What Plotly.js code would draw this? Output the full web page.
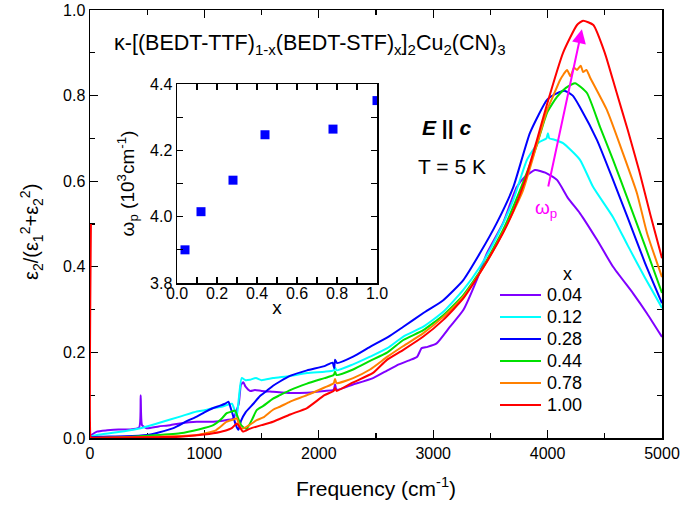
<!DOCTYPE html>
<html>
<head>
<meta charset="utf-8">
<script src="https://cdn.plot.ly/plotly-3.0.1.min.js"></script>
<style>html,body{margin:0;padding:0;background:#fff;}#chart{width:683px;height:513px;}</style>
</head>
<body>
<div id="chart"></div>
<script>
// ---- Data ----
const labels = ["0.04", "0.12", "0.28", "0.44", "0.78", "1.00"];
const colors = ["#8000FF", "#00FFFF", "#0000FF", "#00E000", "#FF8000", "#FF0000"];

const f004 = [0,60,150,250,350,430,443,455,495,600,700,787,933,1078,1195,1250,1300,1320,1340,1360,1400,1442,1500,1600,1750,1897,2050,2130,2142,2155,2300,2474,2600,2700,2797,2860,2899,2950,3030,3147,3263,3380,3470,3610,3729,3800,3890,3980,4082,4180,4283,4432,4572,4747,4869,5000];
const y004 = [0.005,0.015,0.018,0.02,0.02,0.025,0.10,0.03,0.023,0.027,0.03,0.034,0.038,0.038,0.042,0.045,0.08,0.125,0.13,0.12,0.11,0.112,0.11,0.108,0.105,0.106,0.11,0.113,0.125,0.113,0.125,0.14,0.158,0.172,0.182,0.19,0.21,0.213,0.221,0.26,0.299,0.369,0.432,0.502,0.586,0.61,0.626,0.62,0.603,0.56,0.525,0.463,0.4,0.338,0.291,0.236];

const f012 = [0,61,200,300,443,600,787,933,1000,1078,1150,1195,1240,1265,1283,1300,1326,1360,1398,1450,1500,1600,1750,1897,2050,2130,2142,2155,2300,2448,2600,2739,2914,3088,3263,3409,3555,3700,3820,3920,3990,4003,4015,4060,4135,4283,4397,4572,4700,4850,5000];
const y012 = [0.003,0.007,0.012,0.016,0.023,0.035,0.05,0.062,0.065,0.07,0.073,0.077,0.08,0.065,0.05,0.09,0.14,0.135,0.136,0.14,0.135,0.14,0.145,0.152,0.155,0.158,0.165,0.158,0.172,0.19,0.21,0.237,0.26,0.295,0.346,0.40,0.47,0.556,0.65,0.69,0.70,0.712,0.70,0.697,0.689,0.65,0.587,0.516,0.45,0.375,0.304];

const f028 = [0,100,300,495,600,729,850,933,1000,1078,1130,1180,1210,1230,1253,1275,1297,1320,1360,1428,1486,1544,1600,1660,1748,1897,2050,2120,2135,2142,2160,2300,2448,2600,2739,2914,3088,3263,3409,3555,3700,3846,3995,4080,4152,4220,4283,4432,4572,4700,4850,5000];
const y028 = [0.002,0.003,0.004,0.007,0.013,0.023,0.04,0.05,0.06,0.07,0.075,0.08,0.085,0.07,0.05,0.03,0.019,0.04,0.06,0.08,0.098,0.11,0.122,0.132,0.145,0.158,0.168,0.176,0.163,0.183,0.175,0.19,0.213,0.235,0.26,0.292,0.322,0.369,0.432,0.502,0.586,0.713,0.79,0.805,0.811,0.80,0.773,0.696,0.603,0.515,0.41,0.315];

const f044 = [0,300,500,787,950,1078,1150,1195,1240,1268,1290,1312,1340,1370,1420,1457,1515,1600,1660,1750,1897,2050,2130,2142,2155,2300,2448,2600,2739,2914,3088,3263,3435,3610,3759,3900,3995,4082,4160,4240,4344,4458,4572,4694,4850,5000];
const y044 = [0.0,0.002,0.005,0.011,0.02,0.03,0.045,0.058,0.062,0.064,0.05,0.034,0.025,0.022,0.045,0.065,0.075,0.092,0.1,0.112,0.127,0.14,0.147,0.155,0.147,0.16,0.18,0.2,0.229,0.252,0.287,0.334,0.40,0.486,0.579,0.68,0.76,0.797,0.818,0.829,0.806,0.727,0.65,0.563,0.45,0.339];

const f078 = [0,300,600,933,1100,1195,1250,1283,1305,1326,1360,1420,1457,1515,1600,1660,1750,1897,2050,2130,2142,2155,2300,2448,2600,2739,2914,3088,3263,3435,3610,3780,3900,3995,4050,4108,4140,4170,4200,4230,4257,4290,4310,4340,4370,4519,4659,4781,4869,5000];
const y078 = [0,0.001,0.003,0.007,0.018,0.038,0.043,0.046,0.03,0.022,0.025,0.035,0.042,0.048,0.066,0.073,0.085,0.1,0.118,0.128,0.138,0.128,0.14,0.16,0.19,0.215,0.245,0.283,0.33,0.397,0.48,0.575,0.68,0.766,0.80,0.836,0.85,0.86,0.845,0.865,0.86,0.87,0.855,0.86,0.843,0.766,0.665,0.572,0.479,0.376];

const f100 = [8,8,14,300,600,787,1000,1078,1180,1239,1283,1310,1337,1400,1500,1600,1750,1897,2050,2130,2142,2155,2300,2474,2593,2739,2914,3088,3263,3435,3610,3700,3800,3900,3995,4135,4257,4310,4400,4500,4600,4700,4800,4900,5000];
const y100 = [0.5,0.0,0.0005,0.001,0.002,0.003,0.008,0.011,0.017,0.023,0.034,0.025,0.015,0.022,0.03,0.038,0.055,0.07,0.1,0.11,0.117,0.11,0.13,0.152,0.182,0.206,0.237,0.276,0.326,0.397,0.479,0.53,0.60,0.69,0.78,0.9,0.965,0.975,0.965,0.9,0.81,0.72,0.625,0.52,0.42];

// inset: plasma frequency vs x
const insetX = [0.04, 0.12, 0.28, 0.44, 0.78, 1.0];
const insetWp = [3.90, 4.015, 4.11, 4.247, 4.264, 4.35];

// ---- Build ----
const freqs = [f004, f012, f028, f044, f078, f100];
const vals = [y004, y012, y028, y044, y078, y100];
const FONT = "Liberation Sans, Arial, sans-serif";

const traces = freqs.map((fx, i) => ({
  x: fx, y: vals[i], type: "scatter", mode: "lines",
  name: labels[i], line: {color: colors[i], width: 2, shape: "spline", smoothing: 0.5, simplify: false},
  xaxis: "x", yaxis: "y", showlegend: false
}));
traces.push({
  x: insetX, y: insetWp, type: "scatter", mode: "markers",
  marker: {symbol: "square", size: 9, color: "#0000FF"},
  xaxis: "x2", yaxis: "y2", showlegend: false
});

// plot-area geometry in pixels (for paper-coordinate placement of text / legend)
const PL = 90, PR = 662, PT = 10, PB = 438;
const px2paperX = p => (p - PL) / (PR - PL);
const px2paperY = p => (PB - p) / (PB - PT);

const axBase = {
  showline: true, linecolor: "#000", linewidth: 1.5, mirror: "ticks",
  ticks: "inside", ticklen: 8, tickwidth: 1.3, tickcolor: "#000",
  showgrid: false, zeroline: false,
  tickfont: {family: FONT, size: 16, color: "#000"}
};

const annotations = [
  {xref: "paper", yref: "paper", x: px2paperX(112), y: px2paperY(45), xanchor: "left", yanchor: "middle", showarrow: false,
   text: "κ-[(BEDT-TTF)<sub>1-x</sub>(BEDT-STF)<sub>x</sub>]<sub>2</sub>Cu<sub>2</sub>(CN)<sub>3</sub>",
   font: {family: FONT, size: 21.5, color: "#000"}},
  {xref: "paper", yref: "paper", x: px2paperX(31), y: px2paperY(232), xanchor: "center", yanchor: "middle", showarrow: false,
   textangle: -90,
   text: "ε<sub>2</sub>/(ε<sub>1</sub><sup>2</sup>+ε<sub>2</sub><sup>2</sup>)", font: {family: FONT, size: 20, color: "#000"}},
  {xref: "paper", yref: "paper", x: px2paperX(446), y: px2paperY(128), xanchor: "center", yanchor: "middle", showarrow: false,
   text: "<b><i>E</i> || <i>c</i></b>", font: {family: FONT, size: 21, color: "#000"}},
  {xref: "paper", yref: "paper", x: px2paperX(452), y: px2paperY(167), xanchor: "center", yanchor: "middle", showarrow: false,
   text: "T = 5 K", font: {family: FONT, size: 21, color: "#000"}},
  {xref: "x", yref: "y", x: 3990, y: 0.535, xanchor: "center", yanchor: "middle", showarrow: false,
   text: "ω<sub>p</sub>", font: {family: FONT, size: 19, color: "#FF00FF"}},
  {xref: "paper", yref: "paper", x: px2paperX(567), y: px2paperY(274), xanchor: "center", yanchor: "middle", showarrow: false,
   text: "x", font: {family: FONT, size: 18, color: "#000"}},
  {xref: "x", yref: "y", x: 4300, y: 0.955, axref: "x", ayref: "y", ax: 4003, ay: 0.584,
   showarrow: true, arrowhead: 2, arrowsize: 1.4, arrowwidth: 2, arrowcolor: "#FF00FF", text: ""}
];

// custom legend (label text + sample line), one row per series
const shapes = [];
labels.forEach((lab, i) => {
  const py = 295 + 22 * i;
  shapes.push({type: "line", xref: "paper", yref: "paper",
    x0: px2paperX(500), x1: px2paperX(541), y0: px2paperY(py), y1: px2paperY(py),
    line: {color: colors[i], width: 2}});
  annotations.push({xref: "paper", yref: "paper", x: px2paperX(545), y: px2paperY(py),
    xanchor: "left", yanchor: "middle", showarrow: false, text: lab,
    font: {family: FONT, size: 18, color: "#000"}});
});

const layout = {
  width: 683, height: 513,
  margin: {l: PL, r: 683 - PR, t: PT, b: 513 - PB},
  paper_bgcolor: "#fff", plot_bgcolor: "#fff",
  font: {family: FONT, color: "#000"},
  showlegend: false,
  xaxis: Object.assign({}, axBase, {
    range: [0, 5000], dtick: 1000, tick0: 0, layer: "below traces",
    minor: {ticks: "inside", dtick: 500, ticklen: 5, tickcolor: "#000"},
    title: {text: "Frequency (cm<sup>-1</sup>)", font: {family: FONT, size: 21}, standoff: 20}
  }),
  yaxis: Object.assign({}, axBase, {
    range: [0, 1], dtick: 0.2, tick0: 0, tickformat: ".1f", layer: "below traces",
    minor: {ticks: "inside", dtick: 0.1, ticklen: 5, tickcolor: "#000"}
  }),
  xaxis2: Object.assign({}, axBase, {
    domain: [px2paperX(177), px2paperX(377)], anchor: "y2", range: [0, 1], dtick: 0.2, tick0: 0, tickformat: ".1f",
    ticklen: 6, ticklabelstandoff: -5,
    minor: {ticks: "inside", dtick: 0.1, ticklen: 6, tickcolor: "#000"},
    tickfont: {family: FONT, size: 16, color: "#000"},
    title: {text: "x", font: {family: FONT, size: 19}, standoff: 0}
  }),
  yaxis2: Object.assign({}, axBase, {
    domain: [px2paperY(283), px2paperY(84)], anchor: "x2", range: [3.8, 4.4], dtick: 0.2, tick0: 3.8, tickformat: ".1f",
    ticklen: 6,
    minor: {ticks: "inside", dtick: 0.1, ticklen: 6, tickcolor: "#000"},
    tickfont: {family: FONT, size: 16, color: "#000"},
    title: {text: "ω<sub>p</sub> (10<sup>3</sup>cm<sup>-1</sup>)", font: {family: FONT, size: 19}, standoff: 10}
  }),
  annotations: annotations,
  shapes: shapes
};

Plotly.newPlot("chart", traces, layout, {displayModeBar: false, staticPlot: true});
</script>
</body>
</html>
